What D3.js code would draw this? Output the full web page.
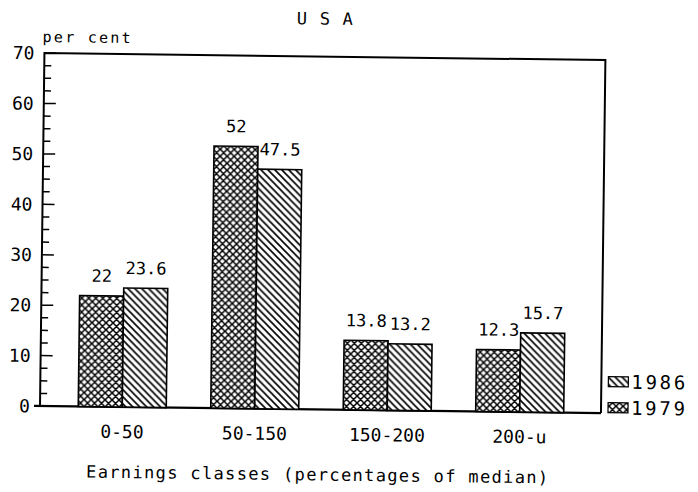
<!DOCTYPE html>
<html>
<head>
<meta charset="utf-8">
<script src="https://cdn.jsdelivr.net/npm/d3@7"></script>
<style>
  html, body { margin: 0; padding: 0; background: #fff; }
  svg { display: block; }
  text { font-family: "DejaVu Sans Mono", "Liberation Mono", monospace; fill: #000; }
</style>
</head>
<body>
<svg id="chart" width="698" height="492"></svg>
<script>
// ---- data ----
const categories = ["0-50", "50-150", "150-200", "200-u"];
const series = ["1979", "1986"];
const values1979 = [22, 52, 13.8, 12.3];
const values1986 = [23.6, 47.5, 13.2, 15.7];
const labels1979 = ["22", "52", "13.8", "12.3"];
const labels1986 = ["23.6", "47.5", "13.2", "15.7"];
const yTicks = [0, 10, 20, 30, 40, 50, 60, 70];
const chartTitle = "U S A";
const yTitle = "per cent";
const xTitle = "Earnings classes (percentages of median)";

// ---- layout ----
const root = d3.select("#chart");
// the scanned original is tilted slightly clockwise
const svg = root.append("g").attr("transform", "rotate(0.72, 40, 406)");
const pLeft = 40, pRight = 601, pTop = 53, pBottom = 406;

const y = d3.scaleLinear().domain([0, 70]).range([pBottom, pTop]);
const x = d3.scaleBand().domain(categories).range([56, 586]).padding(0);
const barW = 44;

// patterns
const defs = root.append("defs");
const cross = defs.append("pattern").attr("id", "cross").attr("patternUnits", "userSpaceOnUse")
  .attr("width", 7).attr("height", 7);
cross.append("rect").attr("width", 7).attr("height", 7).attr("fill", "#fff");
cross.append("path").attr("d", "M0,0 L7,7 M7,0 L0,7 M-1,6 L1,8 M6,-1 L8,1 M-1,1 L1,-1 M6,8 L8,6")
  .attr("stroke", "#000").attr("stroke-width", 1.5);
const diag = defs.append("pattern").attr("id", "diag").attr("patternUnits", "userSpaceOnUse")
  .attr("width", 7).attr("height", 7);
diag.append("rect").attr("width", 7).attr("height", 7).attr("fill", "#fff");
diag.append("path").attr("d", "M0,0 L7,7 M-1,6 L1,8 M6,-1 L8,1")
  .attr("stroke", "#000").attr("stroke-width", 1.6);

// frame
svg.append("path")
  .attr("d", `M${pLeft},${pBottom} L${pLeft},${pTop} L${pRight},${pTop} L${pRight},${pBottom}`)
  .attr("fill", "none").attr("stroke", "#000").attr("stroke-width", 2);
svg.append("line").attr("x1", pLeft - 6).attr("x2", pRight)
  .attr("y1", pBottom).attr("y2", pBottom).attr("stroke", "#000").attr("stroke-width", 2.2);

// y axis ticks (inward)
const minor = d3.range(0, 70.01, 2.5);
svg.append("g").selectAll("line").data(minor).join("line")
  .attr("x1", pLeft).attr("x2", d => pLeft + (d % 10 === 0 ? 12 : 7))
  .attr("y1", d => y(d)).attr("y2", d => y(d))
  .attr("stroke", "#000").attr("stroke-width", 1.5);

svg.append("g").selectAll("text").data(yTicks).join("text")
  .attr("x", 30).attr("y", d => y(d)).attr("dy", "0.36em")
  .attr("text-anchor", "end").attr("font-size", 18).text(d => d);

// bars
function drawBars(vals, labs, offset, fill) {
  svg.append("g").selectAll("rect").data(categories).join("rect")
    .attr("x", d => x(d) + x.bandwidth() / 2 + offset)
    .attr("y", (d, i) => y(vals[i]))
    .attr("width", barW)
    .attr("height", (d, i) => y(0) - y(vals[i]))
    .attr("fill", fill).attr("stroke", "#000").attr("stroke-width", 1.6);
  svg.append("g").selectAll("text").data(categories).join("text")
    .attr("x", d => x(d) + x.bandwidth() / 2 + offset + barW / 2)
    .attr("y", (d, i) => y(vals[i]) - 14)
    .attr("text-anchor", "middle").attr("font-size", 17).text((d, i) => labs[i]);
}
drawBars(values1979, labels1979, -barW, "url(#cross)");
drawBars(values1986, labels1986, 0, "url(#diag)");

// x labels
svg.append("g").selectAll("text").data(categories).join("text")
  .attr("x", d => x(d) + x.bandwidth() / 2).attr("y", 437)
  .attr("text-anchor", "middle").attr("font-size", 18).text(d => d);

// titles
svg.append("text").attr("x", 320).attr("y", 21).attr("text-anchor", "middle")
  .attr("font-size", 17).attr("textLength", 56).attr("lengthAdjust", "spacing").text(chartTitle);
svg.append("text").attr("x", 38).attr("y", 42).attr("font-size", 15)
  .attr("textLength", 88).attr("lengthAdjust", "spacing").text(yTitle);
svg.append("text").attr("x", 318).attr("y", 477).attr("text-anchor", "middle")
  .attr("font-size", 17).attr("textLength", 462).attr("lengthAdjust", "spacing").text(xTitle);

// legend
const legend = [{name: "1986", fill: "url(#diag)", yy: 374.5}, {name: "1979", fill: "url(#cross)", yy: 400.5}];
const lg = svg.append("g").selectAll("g").data(legend).join("g");
lg.append("rect").attr("x", 608).attr("y", d => d.yy - 5).attr("width", 20).attr("height", 10)
  .attr("fill", d => d.fill).attr("stroke", "#000").attr("stroke-width", 1.2);
lg.append("text").attr("x", 631).attr("y", d => d.yy).attr("dy", "0.36em")
  .attr("font-size", 19).attr("textLength", 54).attr("lengthAdjust", "spacing").text(d => d.name);
</script>
</body>
</html>
